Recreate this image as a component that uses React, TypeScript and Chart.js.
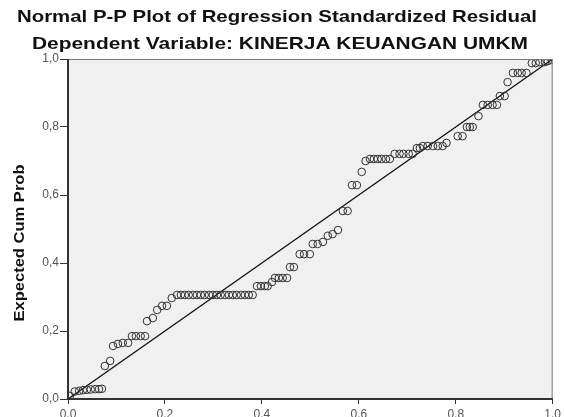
import React, { useEffect, useRef } from 'react';
import { Chart, registerables } from 'chart.js';

Chart.register(...registerables);

const titleLines = [
  'Normal P-P Plot of Regression Standardized Residual',
  'Dependent Variable: KINERJA KEUANGAN UMKM',
];
const yAxisTitle = 'Expected Cum Prob';
const tickValues = [0, 0.2, 0.4, 0.6, 0.8, 1.0];

// Observed cumulative probability (x)
const observedCumProb = [
  0.004,
  0.014, 0.023, 0.031, 0.039, 0.047, 0.056, 0.064, 0.070,
  0.076, 0.087,
  0.093, 0.103, 0.113, 0.124,
  0.132, 0.140, 0.150, 0.159,
  0.163, 0.175,
  0.184, 0.194, 0.204,
  0.214,
  0.225, 0.233, 0.241, 0.249, 0.258, 0.266, 0.274, 0.282, 0.291, 0.299,
  0.307, 0.315, 0.324, 0.332, 0.340, 0.348, 0.357, 0.365, 0.373, 0.381,
  0.390, 0.398, 0.406, 0.412,
  0.421,
  0.427, 0.435, 0.443, 0.452,
  0.458, 0.466,
  0.478, 0.487, 0.499,
  0.505, 0.515, 0.526,
  0.536, 0.546,
  0.557,
  0.567, 0.577,
  0.586, 0.596,
  0.606,
  0.614,
  0.623, 0.631, 0.639, 0.647, 0.656, 0.664,
  0.674, 0.684, 0.692, 0.703, 0.711,
  0.720, 0.726,
  0.732, 0.742, 0.753, 0.763, 0.773,
  0.781,
  0.804, 0.814,
  0.823, 0.829, 0.835,
  0.847,
  0.856, 0.866, 0.876, 0.885,
  0.891, 0.901,
  0.907,
  0.918, 0.928, 0.936, 0.946,
  0.957, 0.965, 0.973, 0.984,
  0.990, 0.998,
];

// Expected cumulative probability (y)
const expectedCumProb = [
  0.009,
  0.022, 0.024, 0.026, 0.027, 0.028, 0.029, 0.029, 0.030,
  0.097, 0.112,
  0.156, 0.162, 0.165, 0.165,
  0.185, 0.185, 0.185, 0.185,
  0.229, 0.238,
  0.262, 0.274, 0.274,
  0.297,
  0.306, 0.306, 0.306, 0.306, 0.306, 0.306, 0.306, 0.306, 0.306, 0.306,
  0.306, 0.306, 0.306, 0.306, 0.306, 0.306, 0.306, 0.306, 0.306, 0.306,
  0.332, 0.332, 0.332, 0.332,
  0.344,
  0.356, 0.356, 0.356, 0.356,
  0.388, 0.388,
  0.426, 0.426, 0.426,
  0.456, 0.456, 0.462,
  0.480, 0.485,
  0.497,
  0.553, 0.553,
  0.629, 0.629,
  0.668,
  0.700,
  0.706, 0.706, 0.706, 0.706, 0.706, 0.706,
  0.721, 0.721, 0.721, 0.721, 0.721,
  0.738, 0.738,
  0.744, 0.744, 0.744, 0.744, 0.744,
  0.753,
  0.773, 0.773,
  0.800, 0.800, 0.800,
  0.832,
  0.865, 0.865, 0.865, 0.865,
  0.891, 0.891,
  0.932,
  0.959, 0.959, 0.959, 0.959,
  0.988, 0.988, 0.991, 0.991,
  0.994, 0.997,
];

const fmt = (v: number) => v.toFixed(1).replace('.', ',');

function drawFitted(
  ctx: CanvasRenderingContext2D,
  text: string,
  x: number,
  y: number,
  width: number,
  font: string,
  rotate = false
) {
  ctx.save();
  ctx.font = font;
  const w = ctx.measureText(text).width;
  ctx.translate(x, y);
  if (rotate) ctx.rotate(-Math.PI / 2);
  ctx.scale(width / w, 1);
  ctx.fillText(text, 0, 0);
  ctx.restore();
}

const framePlugin = {
  id: 'frame',
  beforeDatasetsDraw(chart: any) {
    const { ctx, chartArea: a } = chart;
    ctx.save();
    ctx.fillStyle = '#f0f0f0';
    ctx.fillRect(a.left, a.top, a.right - a.left, a.bottom - a.top);
    ctx.restore();
  },
  afterDraw(chart: any) {
    const { ctx, chartArea: a } = chart;
    ctx.save();
    ctx.lineWidth = 1;
    ctx.strokeStyle = '#777';
    ctx.beginPath();
    ctx.moveTo(a.left, a.top + 0.5);
    ctx.lineTo(a.right - 0.5, a.top + 0.5);
    ctx.lineTo(a.right - 0.5, a.bottom);
    ctx.stroke();
    ctx.lineWidth = 2;
    ctx.strokeStyle = '#333';
    ctx.beginPath();
    ctx.moveTo(a.left, a.top);
    ctx.lineTo(a.left, a.bottom);
    ctx.lineTo(a.right, a.bottom);
    ctx.stroke();

    ctx.fillStyle = '#111';
    ctx.textAlign = 'left';
    ctx.textBaseline = 'alphabetic';
    drawFitted(ctx, titleLines[0], 17, 22, 520, 'bold 17px "Liberation Sans", Arial, sans-serif');
    drawFitted(ctx, titleLines[1], 32, 49, 496, 'bold 17px "Liberation Sans", Arial, sans-serif');
    ctx.textAlign = 'center';
    drawFitted(ctx, yAxisTitle, 24, 243, 157, 'bold 15px "Liberation Sans", Arial, sans-serif', true);
    ctx.restore();
  },
};

export default function App() {
  const ref = useRef<HTMLCanvasElement>(null);
  useEffect(() => {
    document.body.style.margin = '0';
    const points = observedCumProb.map((x, i) => ({ x, y: expectedCumProb[i] }));
    const tickFont = { family: '"Liberation Sans", Arial, sans-serif', size: 12 };
    const chart = new Chart(ref.current as HTMLCanvasElement, {
      type: 'scatter',
      data: {
        datasets: [
          {
            type: 'line',
            data: [
              { x: 0, y: 0 },
              { x: 1, y: 1 },
            ],
            borderColor: '#111',
            borderWidth: 1.3,
            pointRadius: 0,
            order: 1,
          } as any,
          {
            data: points,
            pointRadius: 3.8,
            pointBorderWidth: 1,
            borderColor: '#333',
            backgroundColor: 'rgba(0,0,0,0)',
            order: 0,
          },
        ],
      },
      options: {
        responsive: false,
        animation: false,
        layout: { padding: { top: 59, right: 10, left: 0, bottom: 0 } },
        plugins: { legend: { display: false }, tooltip: { enabled: false } },
        scales: {
          x: {
            type: 'linear',
            min: 0,
            max: 1,
            afterBuildTicks: (s: any) => {
              s.ticks = tickValues.map((v) => ({ value: v }));
            },
            afterFit: (s: any) => {
              s.height = 18;
            },
            ticks: {
              callback: (v: any) => fmt(Number(v)),
              font: tickFont,
              color: '#555',
              padding: 3,
              maxRotation: 0,
              autoSkip: false,
            },
            grid: { drawOnChartArea: false, drawTicks: true, tickLength: 5, color: '#333' },
            border: { display: false },
          },
          y: {
            type: 'linear',
            min: 0,
            max: 1,
            afterBuildTicks: (s: any) => {
              s.ticks = tickValues.map((v) => ({ value: v }));
            },
            afterFit: (s: any) => {
              s.width = 68;
            },
            ticks: {
              callback: (v: any) => fmt(Number(v)),
              font: tickFont,
              color: '#555',
              padding: 1,
              autoSkip: false,
            },
            grid: { drawOnChartArea: false, drawTicks: true, tickLength: 8, color: '#333' },
            border: { display: false },
          },
        },
      },
      plugins: [framePlugin],
    });
    return () => chart.destroy();
  }, []);
  return <canvas ref={ref} width={564} height={417} style={{ display: 'block' }} />;
}
